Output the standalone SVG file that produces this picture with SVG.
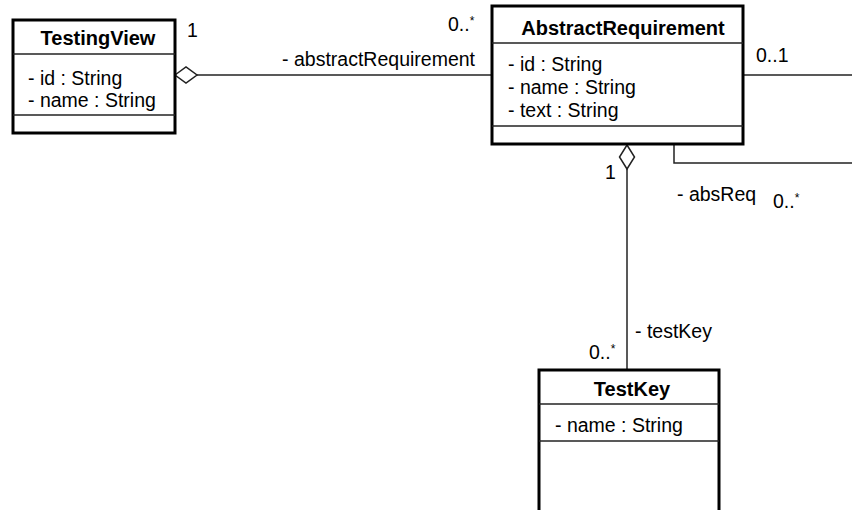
<svg xmlns="http://www.w3.org/2000/svg" width="852" height="510" viewBox="0 0 852 510">
  <style>
    .box { fill: #ffffff; stroke: #000000; stroke-width: 3; }
    .div { stroke: #222222; stroke-width: 1.5; fill: none; }
    .edge { stroke: #222222; stroke-width: 1.5; fill: none; }
    .diamond { fill: #ffffff; stroke: #222222; stroke-width: 1.5; }
    text { font-family: "Liberation Sans", Arial, sans-serif; font-size: 19.5px; fill: #000000; }
    .title { font-weight: bold; font-size: 20px; text-anchor: middle; }
    .star { font-size: 12px; }
  </style>
  <rect width="852" height="510" fill="#ffffff"/>

  <!-- associations -->
  <g id="connectors">
    <line class="edge" x1="197" y1="75" x2="492" y2="75"/>
    <polygon class="diamond" points="175,75 186,67 197,75 186,83"/>
    <line class="edge" x1="743" y1="75" x2="852" y2="75"/>
    <polyline class="edge" points="674,145 674,163 852,163"/>
    <line class="edge" x1="627" y1="169" x2="627" y2="370"/>
    <polygon class="diamond" points="627,145 634.5,157 627,169 619.5,157"/>

    <text x="187" y="37">1</text>
    <text x="475" y="66" text-anchor="end">- abstractRequirement</text>
    <text x="448" y="31">0..<tspan class="star" dy="-6">*</tspan></text>
    <text x="756" y="62">0..1</text>
    <text x="605" y="179">1</text>
    <text x="677" y="201">- absReq</text>
    <text x="773" y="208">0..<tspan class="star" dy="-6">*</tspan></text>
    <text x="635" y="338">- testKey</text>
    <text x="589" y="359">0..<tspan class="star" dy="-6">*</tspan></text>
  </g>

  <g id="TestingView">
    <rect class="box" x="13" y="20" width="162" height="113"/>
    <line class="div" x1="13" y1="54" x2="175" y2="54"/>
    <line class="div" x1="13" y1="115" x2="175" y2="115"/>
    <text class="title" x="98" y="45">TestingView</text>
    <text x="28" y="85">- id : String</text>
    <text x="28" y="107">- name : String</text>
  </g>

  <g id="AbstractRequirement">
    <rect class="box" x="492" y="6" width="251" height="138"/>
    <line class="div" x1="492" y1="43" x2="743" y2="43"/>
    <line class="div" x1="492" y1="126" x2="743" y2="126"/>
    <text class="title" x="623" y="35">AbstractRequirement</text>
    <text x="508" y="71">- id : String</text>
    <text x="508" y="94">- name : String</text>
    <text x="508" y="117">- text : String</text>
  </g>

  <g id="TestKey">
    <rect class="box" x="539" y="370" width="180" height="150"/>
    <line class="div" x1="539" y1="404" x2="719" y2="404"/>
    <line class="div" x1="539" y1="441" x2="719" y2="441"/>
    <text class="title" x="632" y="396">TestKey</text>
    <text x="555" y="432">- name : String</text>
  </g>
</svg>
